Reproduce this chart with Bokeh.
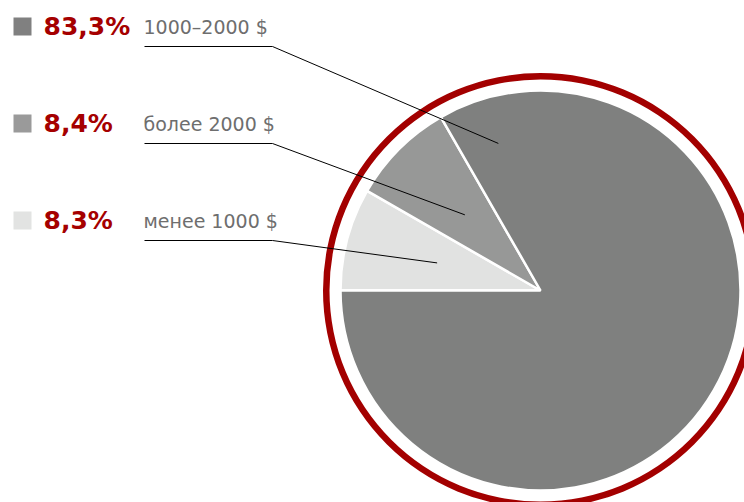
import math
from bokeh.plotting import figure
from bokeh.models import Range1d
from bokeh.core.properties import value
from bokeh.embed import file_html
from bokeh.resources import INLINE

# Data (legend order, top to bottom)
categories = ["1000–2000 $", "более 2000 $", "менее 1000 $"]
shares = [83.3, 8.4, 8.3]
slice_colors = ["#7f807f", "#979897", "#e1e2e1"]
square_colors = ["#808080", "#9a9a9a", "#e2e3e2"]

W, H = 744, 502
def sy(y):  # screen y -> data y
    return H - y

p = figure(width=W, height=H, x_range=Range1d(0, W), y_range=Range1d(0, H),
           output_backend="svg", toolbar_location=None, min_border=0,
           x_axis_type=None, y_axis_type=None)
p.grid.visible = False
p.outline_line_color = None
p.background_fill_color = "white"

cx, cy, R = 540, sy(290), 200
RED = "#a50000"

# Ring
p.annulus(x=cx, y=cy, inner_radius=211, outer_radius=217.5,
          fill_color="#a30000", line_color=None)

# Pie slices: clockwise from 9 o'clock, bottom legend entry first
order = [2, 1, 0]
total = sum(shares)
start = math.pi
slice_mid = {}
for i in order:
    a = shares[i] / total * 2 * math.pi
    end = start - a
    p.wedge(x=cx, y=cy, radius=R, start_angle=start, end_angle=end,
            direction="clock", fill_color=slice_colors[i],
            line_color="white", line_width=2.5)
    slice_mid[i] = (start + end) / 2
    start = end

# Leader anchors (polar from centre)
anchors = {
    0: (math.radians(106), 153),
    1: (slice_mid[1], 107),
    2: (slice_mid[2], 107),
}

TEXT_SHIFT = 9
baselines = [35, 132, 229]
for i, b in enumerate(baselines):
    # legend square
    p.rect(x=22, y=sy(b - 9), width=18, height=18,
           fill_color=square_colors[i], line_color=None)
    pct = f"{shares[i]:.1f}".replace(".", ",") + "%"
    p.text(x=[43], y=[sy(b - TEXT_SHIFT)], text=[pct], text_color=RED,
           text_font=value("DejaVu Sans"), text_font_style="bold",
           text_font_size="25px", text_baseline="alphabetic", text_align="left")
    p.text(x=[143], y=[sy(b - TEXT_SHIFT)], text=[categories[i]], text_color="#6e6e6e",
           text_font=value("DejaVu Sans"), text_font_size="19px",
           text_baseline="alphabetic", text_align="left")
    ang, r = anchors[i]
    ax = cx + r * math.cos(ang)
    ay = cy + r * math.sin(ang)
    uy = sy(b + 11)
    p.line(x=[144, 272, ax], y=[uy, uy, ay], line_color="black", line_width=1)

open("out.html", "w").write(file_html(p, INLINE))
